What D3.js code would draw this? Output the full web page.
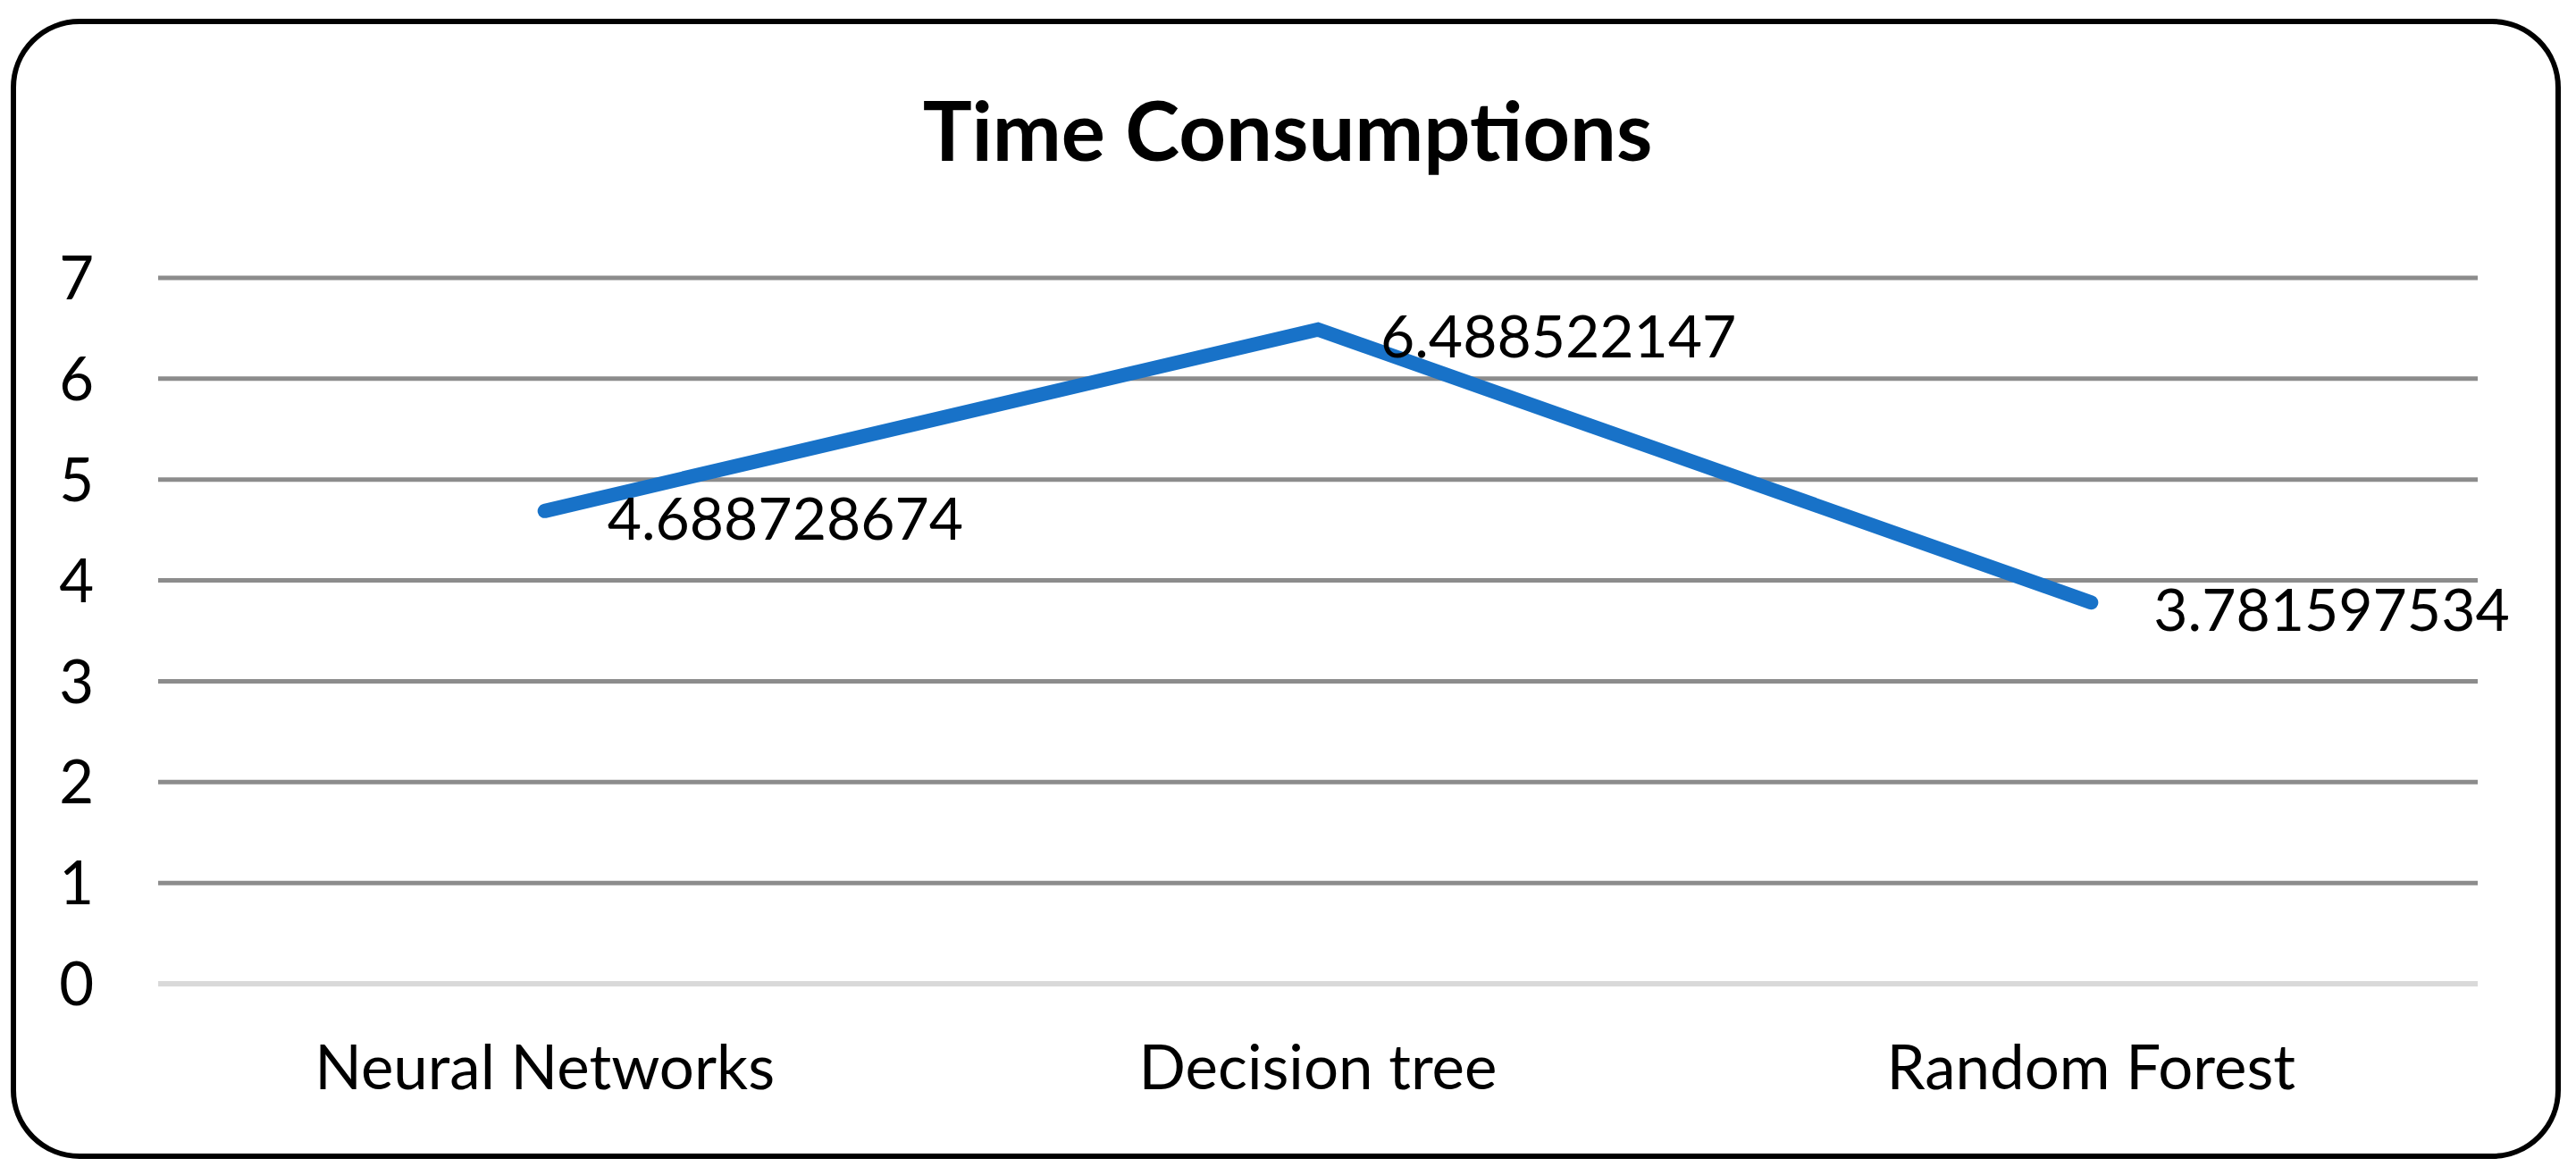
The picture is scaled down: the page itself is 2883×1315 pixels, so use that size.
<!DOCTYPE html>
<html>
<head>
<meta charset="utf-8">
<script src="https://cdn.jsdelivr.net/npm/d3@7"></script>
<style>
  html, body { margin: 0; padding: 0; background: #fff; }
  svg { display: block; }
</style>
</head>
<body>
<svg id="chart" width="2883" height="1315"></svg>
<script>
const title = "Time Consumptions";
const categories = ["Neural Networks", "Decision tree", "Random Forest"];
const values = [4.688728674, 6.488522147, 3.781597534];
const valueLabels = ["4.688728674", "6.488522147", "3.781597534"];
const yTicks = [0, 1, 2, 3, 4, 5, 6, 7];

const W = 2883, H = 1315;
const plot = { left: 177, right: 2773, top: 311, bottom: 1101 };
const FONT = "Lato, 'Open Sans', sans-serif";

const svg = d3.select("#chart");

// outer rounded border
svg.append("rect")
  .attr("x", 15).attr("y", 24)
  .attr("width", 2863 - 15).attr("height", 1294 - 24)
  .attr("rx", 74).attr("ry", 74)
  .attr("fill", "#fff")
  .attr("stroke", "#000")
  .attr("stroke-width", 6);

const x = d3.scaleBand().domain(categories).range([plot.left, plot.right]).padding(0);
const y = d3.scaleLinear().domain([0, 7]).range([plot.bottom, plot.top]);

// gridlines
svg.append("g").selectAll("line")
  .data(yTicks.filter(d => d !== 0))
  .join("line")
  .attr("x1", plot.left).attr("x2", plot.right)
  .attr("y1", d => y(d)).attr("y2", d => y(d))
  .attr("stroke", "#8c8c8c")
  .attr("stroke-width", 5);

// zero axis line
svg.append("line")
  .attr("x1", plot.left).attr("x2", plot.right)
  .attr("y1", y(0)).attr("y2", y(0))
  .attr("stroke", "#d9d9d9")
  .attr("stroke-width", 6);

// y tick labels
svg.append("g").selectAll("text")
  .data(yTicks)
  .join("text")
  .attr("x", 105)
  .attr("y", d => y(d))
  .attr("dy", "0.36em")
  .attr("text-anchor", "end")
  .attr("font-family", FONT)
  .attr("font-size", 67)
  .attr("fill", "#000")
  .text(d => d);

// category labels
svg.append("g").selectAll("text")
  .data(categories)
  .join("text")
  .attr("x", d => x(d) + x.bandwidth() / 2)
  .attr("y", 1219)
  .attr("text-anchor", "middle")
  .attr("font-family", FONT)
  .attr("font-size", 69)
  .attr("fill", "#000")
  .text(d => d);

// line
const pts = categories.map((c, i) => [x(c) + x.bandwidth() / 2, y(values[i])]);
svg.append("path")
  .datum(pts)
  .attr("d", d3.line())
  .attr("fill", "none")
  .attr("stroke", "#1872c8")
  .attr("stroke-width", 16)
  .attr("stroke-linecap", "round")
  .attr("stroke-linejoin", "miter");

// data labels
svg.append("g").selectAll("text")
  .data(categories)
  .join("text")
  .attr("x", (d, i) => x(d) + x.bandwidth() / 2 + 70)
  .attr("y", (d, i) => y(values[i]) + 8)
  .attr("dy", "0.36em")
  .attr("text-anchor", "start")
  .attr("font-family", FONT)
  .attr("font-size", 66)
  .attr("fill", "#000")
  .text((d, i) => valueLabels[i]);

// title
svg.append("text")
  .attr("x", 1441)
  .attr("y", 180)
  .attr("text-anchor", "middle")
  .attr("font-family", FONT)
  .attr("font-weight", "bold")
  .attr("font-size", 92)
  .attr("fill", "#000")
  .text(title);
</script>
</body>
</html>
